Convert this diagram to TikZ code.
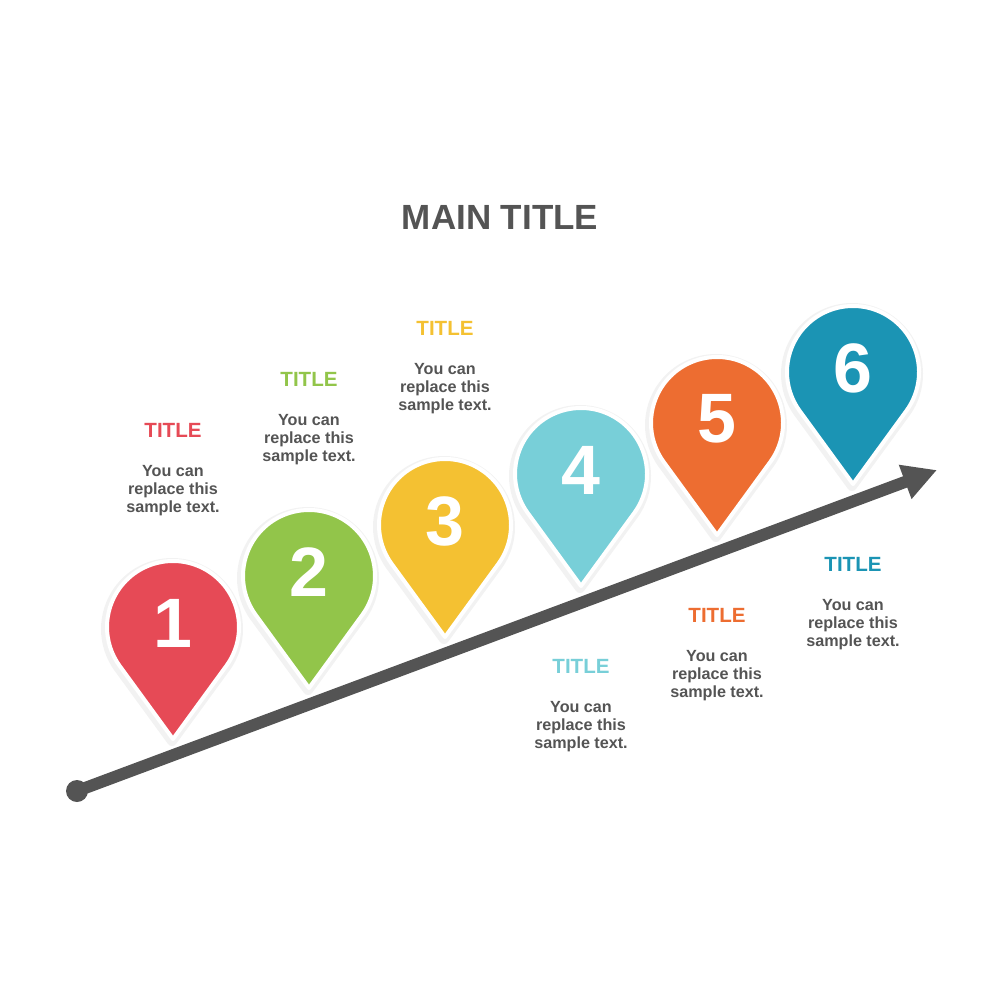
\documentclass[tikz,border=0pt]{standalone}
\usepackage{fontspec}
\setmainfont{Liberation Sans}
\usetikzlibrary{arrows.meta}
\definecolor{textgray}{HTML}{545454}
\definecolor{pinred}{HTML}{E64A56}
\definecolor{pingreen}{HTML}{92C54A}
\definecolor{pinyellow}{HTML}{F4C132}
\definecolor{pinblue}{HTML}{78CFD8}
\definecolor{pinorange}{HTML}{ED6D31}
\definecolor{pinteal}{HTML}{1B94B4}
\begin{document}
\begin{tikzpicture}[x=0.2mm, y=0.2mm, every node/.style={font=\bfseries},
  pin/.style={fill=#1, draw=white, line width=0.8mm, line join=round},
  pinshadow/.style={draw=black, opacity=0.05, line width=2mm, line join=round, xshift=-0.2mm, yshift=-0.4mm},
  num/.style={text=white, font=\fontsize{39.8}{40}\bfseries},
  head/.style={text=#1, font=\fontsize{11.7}{14}\bfseries},
  body/.style={text=textgray, align=center, font=\fontsize{9.2}{10.24}\bfseries}]
  \useasboundingbox (0,0) rectangle (1000,-1000);
  \node[text=textgray, font=\fontsize{19.9}{24}\bfseries] (main) at (500,-217) {MAIN TITLE};
  % arrow
  \node[circle, fill=textgray, inner sep=0pt, minimum size=4.4mm] (dot) at (77,-791) {};
  \coordinate (end) at (937,-470);
  \draw[textgray, line width=2.4mm, -{Triangle[length=6.8mm, width=6.8mm]}] (dot.center) -- (end);
  % pins and their texts
  \foreach \i/\c/\ty in {1/pinred/430,2/pingreen/379,3/pinyellow/328,4/pinblue/666,5/pinorange/615,6/pinteal/564} {
    \pgfmathsetmacro{\cx}{173+136*(\i-1)}
    \pgfmathsetmacro{\cy}{-627+51*(\i-1)}
    \draw[pinshadow] (\cx,\cy) ++(-36.1:66) arc[start angle=-36.1, end angle=216.1, radius=66] -- (\cx,\cy-112) -- cycle;
    \draw[pin=\c] (\cx,\cy) ++(-36.1:66) arc[start angle=-36.1, end angle=216.1, radius=66] -- (\cx,\cy-112) -- cycle;
    \node[num] (n\i) at (\cx,\cy+4) {\i};
    \node[head=\c] (t\i) at (\cx,-\ty) {TITLE};
    \node[body] (b\i) at (\cx,-\ty-61) {You can\\replace this\\sample text.};
  }
\end{tikzpicture}
\end{document}
